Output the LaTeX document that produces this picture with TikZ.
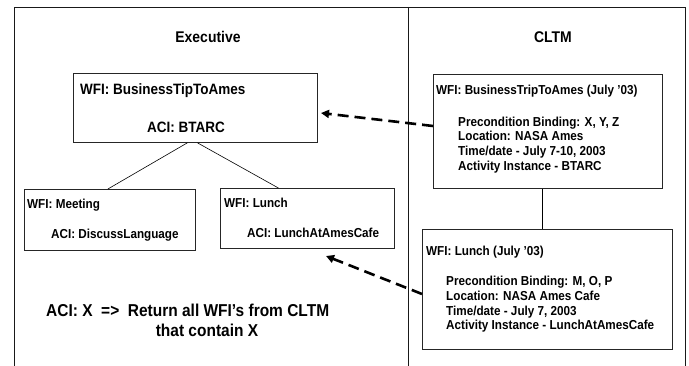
\documentclass[tikz,border=0pt]{standalone}
\usepackage{fontspec}
\setmainfont{Liberation Sans}[FakeStretch=0.9]
\usetikzlibrary{arrows.meta}
\tikzset{
  box/.style={draw=black!85, line width=0.8pt, anchor=north west, inner sep=0pt},
  lbl/.style={anchor=base west, inner sep=0pt, font=\bfseries\fontsize{13}{15}\selectfont},
  big/.style={anchor=base west, inner sep=0pt, font=\bfseries\fontsize{15}{18}\selectfont},
  title/.style={inner sep=0pt, font=\bfseries\fontsize{15.5}{18}\selectfont},
  query/.style={inner sep=0pt, font=\bfseries\fontsize{17.2}{20}\selectfont},
  frame/.style={line width=0.8pt, black!90},
  link/.style={line width=0.6pt},
  fetch/.style={line width=2.6pt, dash pattern=on 11pt off 6pt, -{Triangle[length=8pt,width=8pt]}},
}
\begin{document}
\begin{tikzpicture}[x=1pt,y=-1pt]
\useasboundingbox (0,0) rectangle (689,366);
% frame
\coordinate (tl) at (14,7); \coordinate (tr) at (685,7);
\coordinate (bl) at (14,366); \coordinate (br) at (685,366);
\coordinate (dt) at (408,7); \coordinate (db) at (408,366);
\draw[frame] (bl) -- (tl) -- (tr) -- (br);
\draw[frame] (dt) -- (db);
% titles
\node[title] (exec) at (208,37) {Executive};
\node[title] (cltm) at (553,37) {CLTM};
% executive boxes
\node[box, minimum width=244pt, minimum height=69pt] (b1) at (73,73) {};
\node[big] (b1t) at (80,95) {WFI: BusinessTipToAmes};
\node[big] (b1a) at (147,133) {ACI: BTARC};
\node[box, minimum width=171pt, minimum height=61pt] (b2) at (24,189) {};
\node[lbl] (b2t) at (27,209) {WFI: Meeting};
\node[lbl] (b2a) at (51,239) {ACI: DiscussLanguage};
\node[box, minimum width=174pt, minimum height=60pt] (b3) at (220,188) {};
\node[lbl] (b3t) at (224,208) {WFI: Lunch};
\node[lbl] (b3a) at (247,238) {ACI: LunchAtAmesCafe};
\draw[link] ([xshift=-8pt]b1.south) -- ([xshift=-2pt]b2.north);
\draw[link] ([xshift=2pt]b1.south) -- ([xshift=-29pt]b3.north);
% CLTM boxes
\node[box, minimum width=229pt, minimum height=114pt] (c1) at (433,74) {};
\node[lbl] (c1t) at (436,95) {WFI: BusinessTripToAmes (July '03)};
\node[lbl] (c1p) at (458,127) {Precondition Binding: X, Y, Z};
\node[lbl] (c1l) at (458,141) {Location: NASA Ames};
\node[lbl] (c1d) at (458,156) {Time/date - July 7-10, 2003};
\node[lbl] (c1i) at (458,171) {Activity Instance - BTARC};
\node[box, minimum width=250pt, minimum height=120pt] (c2) at (422,229) {};
\node[lbl] (c2t) at (426,256) {WFI: Lunch (July '03)};
\node[lbl] (c2p) at (446,286) {Precondition Binding: M, O, P};
\node[lbl] (c2l) at (446,301) {Location: NASA Ames Cafe};
\node[lbl] (c2d) at (446,316) {Time/date - July 7, 2003};
\node[lbl] (c2i) at (446,330) {Activity Instance - LunchAtAmesCafe};
\draw[link] (c1.south -| 542,0) -- (c2.north -| 542,0);
% fetch arrows
\coordinate (h1) at (321,113);
\coordinate (h2) at (326,256);
\draw[fetch] (c1.west |- 0,126) -- (h1);
\draw[fetch] (c2.west |- 0,294) -- (h2);
% query text
\node[query, anchor=base west] (q1) at (46,317) {ACI: X\ \ =>\ \ Return all WFI's from CLTM};
\node[query, anchor=base] (q2) at (207,337) {that contain X};
\end{tikzpicture}
\end{document}
